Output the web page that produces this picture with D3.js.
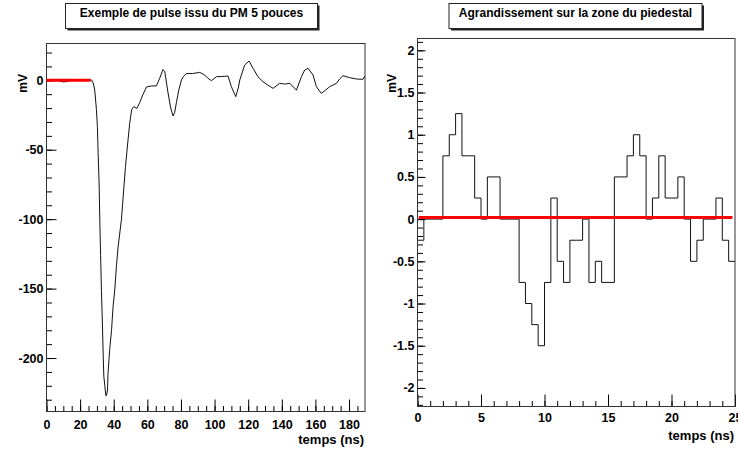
<!DOCTYPE html>
<html>
<head>
<meta charset="utf-8">
<script src="https://cdn.jsdelivr.net/npm/d3@7"></script>
<style>
  body { margin: 0; background: #fff; }
  svg { display: block; font-family: "Liberation Sans", Arial, Helvetica, sans-serif; }
</style>
</head>
<body>
<svg id="canvas"></svg>
<script>
// Données
// Impulsion complète : temps (ns) et amplitude (mV)
const pulse_t = [0, 3, 6, 8, 10, 12, 14, 17, 20, 23,
    26.8, 27.8, 28.7, 29.7, 30.3, 30.7, 31.3, 31.7, 32.2, 32.7,
    33.3, 33.7, 34.1, 34.7, 35.3, 35.7, 36.3, 36.6, 37.6, 38.7,
    39.6, 40.6, 41.6, 42.6, 44.6, 45.6, 47.0, 48.5, 49.5, 50.7,
    51.9, 53.7, 55.5, 57.3, 59.5, 62.4, 65.4, 67.4, 69.3, 70.4,
    72.3, 73.9, 75.3, 76.3, 77.3, 78.7, 80.3, 81.3, 83.3, 87.0,
    91.2, 94.1, 95.9, 98.1, 101.1, 104.3, 108.0, 110.0, 112.6, 114.1,
    115.0, 117.9, 120.5, 122.9, 125.8, 128.8, 131.6, 134.8, 138.7, 141.7,
    144.7, 146.7, 148.7, 151.7, 153.6, 155.6, 158.6, 160.6, 163.5, 166.1,
    168.5, 172.5, 174.4, 176.4, 180.4, 184.5, 188.3, 189.3];
const pulse_mv = [0.3, 0, 0.4, -0.6, -1.2, -0.9, -0.4, 0.2, 0, 0.3,
    0.2, -2, -7, -21, -34, -52, -74, -100, -126, -152,
    -177, -197, -213, -220, -227, -227, -223, -211, -194, -180,
    -163, -151, -134, -120, -100, -84, -62, -43, -31, -21,
    -19, -20.3, -16, -10.5, -4.8, -4.1, -4, 1.6, 7.8, 6.2,
    -9, -20, -25.7, -23, -16, -7, 0.2, 2.6, 4.9, 4.9,
    5.7, 3.8, 1.6, -0.3, 2.6, 2.7, 3.1, -4.6, -11.8, -5.5,
    0.2, 11, 13.9, 8.6, 2.6, -1, -3.4, -5.8, -2.2, -2.7,
    -2.2, -4.6, -7, 2.6, 7.4, 8.6, 3.8, -4.6, -9.4, -7,
    -4.6, -2.2, 0.9, 3.3, 1.9, 0.9, 0.7, 3];

// Zoom sur le piedestal : histogramme de 0 à 25 ns, bins de 0.5 ns
const ped_bin_width = 0.5;
const ped_values = [-0.25, 0, 0, 0, 0.75, 1, 1.25, 0.75, 0.75, 0.25,
    0, 0.5, 0.5, 0, 0, 0, -0.75, -1, -1.25, -1.5,
    -0.75, 0.25, -0.5, -0.75, -0.25, -0.25, 0, -0.75, -0.5, -0.75,
    -0.75, 0.5, 0.5, 0.75, 1, 0.75, 0, 0.25, 0.75, 0.25,
    0.25, 0.5, 0, -0.5, -0.25, 0, 0, 0.25, -0.25, -0.5];

// Ajustement du piedestal (ligne rouge)
const ped_level = 0.02;
const fit_range_left = [0, 26.3];
const fit_range_right = [0.1, 24.8];

// Graduations et textes
const left_x_ticks = [0, 20, 40, 60, 80, 100, 120, 140, 160, 180];
const left_y_ticks = [-200, -150, -100, -50, 0];
const right_x_ticks = [0, 5, 10, 15, 20, 25];
const right_y_ticks = [-2, -1.5, -1, -0.5, 0, 0.5, 1, 1.5, 2];
const titles = ["Exemple de pulse issu du PM 5 pouces", "Agrandissement sur la zone du piedestal"];
const x_title = "temps (ns)";
const y_title = "mV";

const width = 738, height = 452;
const svg = d3.select("#canvas").attr("width", width).attr("height", height);

//Fonction qui dessine un cadre avec ses axes
function draw_panel(cfg) {
    const x = d3.scaleLinear().domain(cfg.xdom).range([cfg.x0, cfg.x1]);
    const y = d3.scaleLinear().domain(cfg.ydom).range([cfg.y1, cfg.y0]);
    const fmt = d => String(d);

    // Graduations secondaires
    svg.append("g")
        .attr("transform", `translate(0, ${cfg.y1})`)
        .call(d3.axisBottom(x).tickValues(cfg.x_minor).tickSize(-5.5).tickFormat(""))
        .call(g => g.select(".domain").remove());
    svg.append("g")
        .attr("transform", `translate(${cfg.x0}, 0)`)
        .call(d3.axisLeft(y).tickValues(cfg.y_minor).tickSize(-5.5).tickFormat(""))
        .call(g => g.select(".domain").remove());

    // Graduations principales
    const gx = svg.append("g")
        .attr("transform", `translate(0, ${cfg.y1})`)
        .call(d3.axisBottom(x).tickValues(cfg.x_ticks).tickSize(-12).tickPadding(cfg.xpad).tickFormat(fmt));
    const gy = svg.append("g")
        .attr("transform", `translate(${cfg.x0}, 0)`)
        .call(d3.axisLeft(y).tickValues(cfg.y_ticks).tickSize(-cfg.ymajor).tickPadding(3).tickFormat(fmt));
    [gx, gy].forEach(g => {
        g.select(".domain").remove();
        g.selectAll("text")
            .attr("fill", "#000")
            .attr("font-family", "Liberation Sans, Arial, sans-serif")
            .attr("font-size", 12.5)
            .attr("font-weight", "bold");
    });
    svg.selectAll(".tick line").attr("stroke", "#000");

    // Cadre
    svg.append("rect")
        .attr("x", cfg.x0)
        .attr("y", cfg.y0)
        .attr("width", cfg.x1 - cfg.x0)
        .attr("height", cfg.y1 - cfg.y0)
        .attr("fill", "none")
        .attr("stroke", "#333")
        .attr("stroke-width", 1);

    // Titres des axes
    svg.append("text")
        .attr("x", cfg.x1 - 1)
        .attr("y", cfg.xt_y)
        .attr("text-anchor", "end")
        .attr("font-size", 13)
        .attr("font-weight", "bold")
        .text(x_title);
    svg.append("text")
        .attr("transform", `translate(${cfg.yt_x}, ${cfg.yt_y}) rotate(-90)`)
        .attr("text-anchor", "end")
        .attr("font-size", 12)
        .attr("font-weight", "bold")
        .text(y_title);

    // Boîte du titre avec ombre
    svg.append("rect")
        .attr("x", cfg.bx + 2)
        .attr("y", 5.5)
        .attr("width", cfg.bw)
        .attr("height", 25)
        .attr("fill", "#222");
    svg.append("rect")
        .attr("x", cfg.bx)
        .attr("y", 3.5)
        .attr("width", cfg.bw)
        .attr("height", 25)
        .attr("fill", "#fff")
        .attr("stroke", "#222")
        .attr("stroke-width", 1);
    svg.append("text")
        .attr("x", cfg.bx + cfg.bw / 2)
        .attr("y", 17)
        .attr("text-anchor", "middle")
        .attr("font-size", 12)
        .attr("font-weight", "bold")
        .text(cfg.title);

    return {x, y};
}

function steps(a, b, s) {
    return d3.range(Math.round(a / s), Math.round(b / s) + 1).map(i => +(i * s).toFixed(2));
}

//Panneau gauche : impulsion complète
const left = draw_panel({
    x0: 46.5, x1: 365, y0: 43.5, y1: 411.5,
    xdom: [0, 189.5], ydom: [-238.5, 26.5],
    x_ticks: left_x_ticks, y_ticks: left_y_ticks,
    x_minor: steps(0, 185, 5), y_minor: steps(-230, 20, 10),
    ymajor: 10, xpad: 8.5,
    xt_y: 444, yt_x: 26.5, yt_y: 74,
    bx: 65.5, bw: 252, title: titles[0]
});

const pulse = pulse_t.map((t, i) => ({t: t, v: pulse_mv[i]}));
svg.append("path")
    .attr("d", d3.line().x(d => left.x(d.t)).y(d => left.y(d.v))(pulse))
    .attr("fill", "none")
    .attr("stroke", "#111")
    .attr("stroke-width", 1);

svg.append("line")
    .attr("x1", left.x(fit_range_left[0]))
    .attr("x2", left.x(fit_range_left[1]))
    .attr("y1", left.y(ped_level))
    .attr("y2", left.y(ped_level))
    .attr("stroke", "#ff0000")
    .attr("stroke-width", 3);

//Panneau droit : zoom sur le piedestal
const right = draw_panel({
    x0: 417.5, x1: 735, y0: 38.5, y1: 406.5,
    xdom: [0, 25], ydom: [-2.22, 2.14],
    x_ticks: right_x_ticks, y_ticks: right_y_ticks,
    x_minor: steps(0, 25, 1), y_minor: steps(-2.2, 2.1, 0.1),
    ymajor: 8, xpad: 7,
    xt_y: 440, yt_x: 396, yt_y: 74,
    bx: 449, bw: 253, title: titles[1]
});

const bins = ped_values.map((v, i) => ({t: i * ped_bin_width, v: v}));
bins.push({t: ped_values.length * ped_bin_width, v: ped_values[ped_values.length - 1]});
svg.append("path")
    .attr("d", d3.line().curve(d3.curveStepAfter).x(d => right.x(d.t)).y(d => right.y(d.v))(bins))
    .attr("fill", "none")
    .attr("stroke", "#111")
    .attr("stroke-width", 1);

svg.append("line")
    .attr("x1", right.x(fit_range_right[0]))
    .attr("x2", right.x(fit_range_right[1]))
    .attr("y1", right.y(ped_level))
    .attr("y2", right.y(ped_level))
    .attr("stroke", "#ff0000")
    .attr("stroke-width", 3);
</script>
</body>
</html>
